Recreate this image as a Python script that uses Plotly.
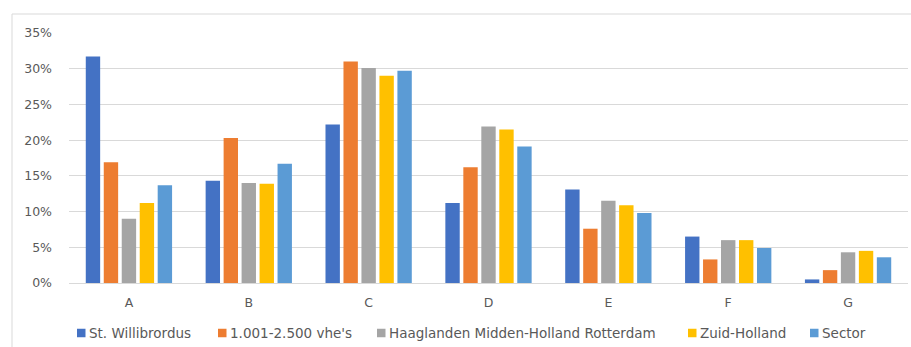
import plotly.graph_objects as go

categories = ["A", "B", "C", "D", "E", "F", "G"]
series_names = ["St. Willibrordus", "1.001-2.500 vhe's",
                "Haaglanden Midden-Holland Rotterdam", "Zuid-Holland", "Sector"]
st_willibrordus = [31.7, 14.3, 22.2, 11.2, 13.1, 6.5, 0.5]
vhe_1001_2500 = [16.9, 20.3, 31.0, 16.2, 7.6, 3.3, 1.8]
haaglanden = [9.0, 14.0, 30.1, 21.9, 11.5, 6.0, 4.3]
zuid_holland = [11.2, 13.9, 29.0, 21.5, 10.9, 6.0, 4.5]
sector = [13.7, 16.7, 29.7, 19.1, 9.8, 4.9, 3.6]
colors = ["#4472C4", "#ED7D31", "#A5A5A5", "#FFC000", "#5B9BD5"]
y_ticks = [0, 5, 10, 15, 20, 25, 30, 35]
y_labels = [f"{v}%" for v in y_ticks]

W, H = 911, 347
L, R, T, B = 69, 3, 33, 64
pw, ph = W - L - R, H - T - B

def px_x(p):
    return (p - L) / pw

def px_y(p):
    return (H - B - p) / ph

fig = go.Figure()
for name, vals, col in zip(series_names,
                           [st_willibrordus, vhe_1001_2500, haaglanden, zuid_holland, sector],
                           colors):
    fig.add_trace(go.Bar(x=categories, y=vals, name=name, marker_color=col,
                         marker_line_width=0, showlegend=False))

font = "'DejaVu Sans', Verdana, sans-serif"
txt = "#595959"
fig.update_layout(
    width=W, height=H,
    margin=dict(l=L, r=R, t=T, b=B),
    paper_bgcolor="white", plot_bgcolor="white",
    barmode="group", bargap=0.25, bargroupgap=0.2,
    font=dict(family=font, size=12.5, color=txt),
    showlegend=False,
    xaxis=dict(showgrid=False, showline=True, linecolor="#D9D9D9", linewidth=1,
               ticks="", ticklabelstandoff=8, tickfont=dict(size=12.5, color=txt),
               fixedrange=True),
    yaxis=dict(range=[0, 35], tickvals=y_ticks, ticktext=y_labels, showgrid=True,
               gridcolor="#D9D9D9", gridwidth=1, zeroline=False, showline=False,
               ticks="", ticklabelstandoff=16, tickfont=dict(size=12.5, color=txt)),
)

# chart frame
fig.add_shape(type="rect", xref="paper", yref="paper",
              x0=px_x(12), x1=px_x(930), y0=px_y(14), y1=px_y(370),
              line=dict(color="#D9D9D9", width=1), fillcolor="rgba(0,0,0,0)", layer="below")

# custom legend (small squares next to text, like Excel)
legend_x = [77, 218, 377, 688, 810]
legend_yc = 333
sq = 8.5
for name, col, lx in zip(series_names, colors, legend_x):
    fig.add_shape(type="rect", xref="paper", yref="paper",
                  x0=px_x(lx), x1=px_x(lx + sq),
                  y0=px_y(legend_yc + sq / 2), y1=px_y(legend_yc - sq / 2),
                  line=dict(width=0), fillcolor=col)
    fig.add_annotation(xref="paper", yref="paper", x=px_x(lx + sq + 2), y=px_y(legend_yc),
                       xanchor="left", yanchor="middle", text=name, showarrow=False,
                       font=dict(family=font, size=13.5, color=txt), borderpad=0)

fig.write_html("out.html")
